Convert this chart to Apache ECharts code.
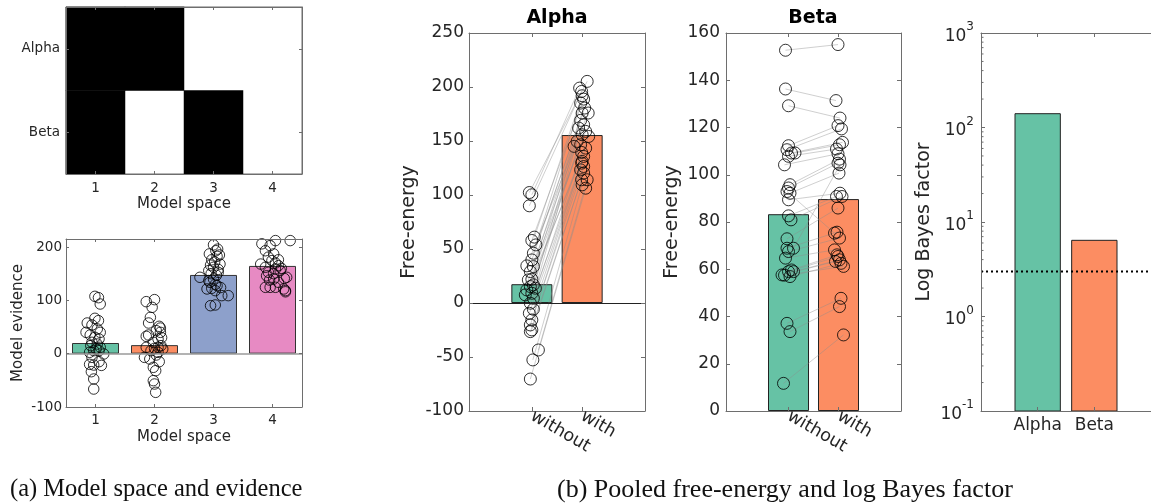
<!DOCTYPE html>
<html><head><meta charset="utf-8">
<script src="https://cdn.jsdelivr.net/npm/echarts@6/dist/echarts.min.js"></script>
<style>html,body{margin:0;padding:0;background:#fff}#c{width:1151px;height:504px}</style>
</head><body><div id="c"></div>
<script>
// ---------- data ----------
const modelLabels = ['1', '2', '3', '4'];
const factorRows = ['Beta', 'Alpha'];           // bottom -> top
const modelSpaceAlpha = [1, 1, 0, 0];
const modelSpaceBeta = [1, 0, 1, 0];

const evidenceMeans = [20, 16, 147.6, 164.5];
const evidenceM1 = [107.5, 105, 93.1, 66.3, 61.9, 57.5, 53.8, 46.3, 40, 40, 35, 30.6, 27.5, 21.3, 18.1, 15, 11.9, 8.8, 5.6, 5.6, 2.5, -0.6, -6.9, -15, -21.3, -33.8, -47.5, -66.3, -20, -22];
const jitterM1 = [-0.01, 0.05, 0.08, -0.01, 0.05, -0.14, -0.06, 0.03, -0.16, 0.08, -0.09, -0.01, 0.06, -0.06, 0.03, -0.08, 0.08, 0.01, -0.03, 0.06, -0.1, 0.14, -0.06, 0.06, -0.03, -0.07, -0.03, -0.03, -0.1, 0.1];
const evidenceM2 = [97.5, 101.3, 86.9, 68.1, 57.5, 51.3, 43.1, 35, 32.5, 27.5, 21.3, 15, 11.9, 10, 8.8, 5.6, 2.5, -2.5, -6.9, -10, -15, -25.6, -31.9, -50.6, -56.9, -72.5, 40, 30, 48, 12];
const jitterM2 = [-0.14, 0, -0.04, -0.07, -0.1, 0.08, 0.03, -0.1, -0.14, 0.06, -0.02, 0.11, -0.14, 0, 0.14, -0.06, 0.06, 0.03, -0.17, -0.08, 0.08, -0.02, 0.02, -0.02, 0, 0.02, 0.1, 0.12, 0.1, 0.06];
const evidenceM3 = [204, 196, 193, 187, 185, 182.6, 176, 172, 168, 166, 162, 158, 155.7, 152.5, 150, 147, 143.2, 140, 137, 133.8, 130, 127.6, 124, 122.6, 121.3, 118.2, 108.8, 108.8, 91.3, 90];
const jitterM3 = [0, 0.07, 0.04, -0.07, 0.1, 0.06, -0.03, 0.02, 0.11, -0.05, 0, 0.08, -0.08, 0.08, -0.04, 0.05, -0.23, 0, -0.08, -0.06, 0.03, 0.06, 0.12, -0.03, -0.11, 0.03, 0.14, 0.25, 0.03, -0.05];
const evidenceM4 = [212, 212, 206, 202.6, 193, 187, 181, 176, 174.5, 170, 168, 165, 162, 160, 158.8, 155.7, 152.5, 150, 146, 143.2, 141, 140, 133.8, 124.4, 124.4, 124.4, 121.3, 118.2, 116, 138];
const jitterM4 = [0.05, 0.3, -0.18, -0.04, -0.12, 0.02, -0.07, 0.1, -0.01, 0.05, -0.2, 0.1, -0.12, 0.15, 0.05, 0.13, -0.07, 0.02, -0.1, 0.24, 0.2, 0.02, 0.1, -0.12, -0.04, 0.05, 0.19, 0.22, 0.22, -0.05];

const condLabels = ['without', 'with'];
const alphaMeans = [17.4, 155.5];
const alphaWithout = [102.3, 100.2, 90, 61, 57.9, 53.8, 46.1, 39.9, 34.4, 33.7, 29.1, 22, 21.4, 16.8, 15.2, 13.7, 12.1, 9, 7.5, 4.4, -0.2, -5.8, -9.5, -15.7, -20.3, -24.9, -26.5, -43.5, -52.7, -70.4];
const alphaWithoutJit = [-0.05, 0, -0.05, 0.05, 0, 0.08, 0.03, 0, -0.1, 0.03, -0.03, 0, -0.07, 0.03, -0.03, 0.07, -0.1, 0, -0.13, 0.03, -0.03, 0.03, -0.05, 0, -0.03, 0, -0.03, 0.13, 0.02, -0.03];
const alphaWith = [205.2, 199, 195.9, 191.9, 188.8, 185.1, 180.5, 175.9, 175.9, 169.1, 165, 162, 158.9, 155.8, 154.2, 149.6, 146.5, 145, 143.4, 139.4, 135.7, 131.1, 129.5, 126.4, 123.3, 120.3, 114.1, 114.1, 109.4, 106.3];
const alphaWithJit = [0.1, -0.05, -0.01, 0, 0.03, -0.03, 0.05, 0, 0.12, -0.03, 0.03, -0.07, 0.07, 0, 0.13, -0.1, -0.03, -0.16, 0.07, -0.01, 0.03, 0, -0.01, 0.03, -0.03, 0.03, -0.01, 0.1, 0, 0.07];

const betaMeans = [83.3, 89.7];
const betaWithout = [152.7, 136.3, 129.2, 112.3, 110.6, 109.2, 109.2, 107.8, 104.2, 95.8, 94.4, 92.9, 92.2, 89.4, 82.6, 80.9, 72.9, 68.9, 68.9, 67.5, 64.7, 59.7, 59.0, 59.0, 57.6, 56.9, 57.5, 37.1, 33.6, 11.7];
const betaWithoutJit = [-0.06, -0.06, 0, 0, -0.03, 0.06, 0.13, 0, -0.08, 0.03, 0, -0.03, 0.03, 0, 0, 0.05, -0.03, -0.03, 0.1, 0, -0.06, 0.06, 0, 0.1, -0.13, 0.03, -0.08, -0.03, 0.03, -0.1];
const betaWith = [155.1, 131.4, 124.0, 120.8, 119.4, 113.7, 112.7, 110.9, 108.9, 106.6, 104.9, 75.3, 100.7, 92.2, 90.8, 90.8, 85.9, 75.7, 104.2, 73.2, 68.2, 66.1, 65.4, 64.0, 63.3, 62.5, 61.2, 47.7, 44.2, 32.2];
const betaWithJit = [-0.01, -0.05, 0.03, -0.01, 0.06, 0.08, 0.02, -0.04, -0.01, 0.02, -0.01, -0.08, 0.01, 0.03, -0.04, 0.07, -0.01, -0.03, 0.03, 0.02, -0.08, -0.03, -0.01, 0.02, -0.06, 0.05, 0.1, 0.05, 0.02, 0.1];

const bayesLabels = ['Alpha', 'Beta'];
const bayesFactor = [140, 6.4];
const bayesThreshold = 3;
const logMinorTicks = [0.2, 0.3, 0.4, 0.5, 0.6, 0.7, 0.8, 0.9, 2, 3, 4, 5, 6, 7, 8, 9, 20, 30, 40, 50, 60, 70, 80, 90, 200, 300, 400, 500, 600, 700, 800, 900];

const evidenceTicks = [-100, 0, 100, 200];
const captionA = '(a) Model space and evidence';
const captionB = '(b) Pooled free-energy and log Bayes factor';

// ---------- style ----------
const TXT = '#262626';
const FRAME = '#6e6e6e';
const COLORS = ['#66c2a5', '#fc8d62', '#8da0cb', '#e78ac3'];
const FONT = 'DejaVu Sans';

const aLine = { show: true, onZero: false, lineStyle: { color: FRAME, width: 1 } };
const tick = (len, extra) => Object.assign({ show: true, inside: true, length: len, lineStyle: { color: FRAME, width: 1 } }, extra || {});
const noLabel = { show: false };
const noSplit = { show: false };
const AZ = 10;

const xAxis = [
  // 0,1 matrix
  { gridIndex: 0, z: AZ, type: 'category', data: modelLabels, position: 'bottom', axisLine: aLine, axisTick: tick(3, { alignWithLabel: true }),
    axisLabel: { fontSize: 13.5, margin: 7, color: TXT, fontFamily: FONT }, splitLine: noSplit,
    name: 'Model space', nameLocation: 'middle', nameGap: 23, nameTextStyle: { fontSize: 15, color: TXT, fontFamily: FONT } },
  { gridIndex: 0, z: AZ, type: 'category', data: modelLabels, position: 'top', axisLine: aLine, axisTick: tick(3, { alignWithLabel: true }), axisLabel: noLabel, splitLine: noSplit },
  // 2,3 evidence
  { gridIndex: 1, z: AZ, type: 'value', min: 0.5, max: 4.5, position: 'bottom', axisLine: aLine, axisTick: tick(3, { customValues: [1, 2, 3, 4] }),
    axisLabel: { customValues: [1, 2, 3, 4], formatter: v => modelLabels[Math.round(v) - 1], fontSize: 13.5, margin: 6, color: TXT, fontFamily: FONT }, splitLine: noSplit,
    name: 'Model space', nameLocation: 'middle', nameGap: 23, nameTextStyle: { fontSize: 15, color: TXT, fontFamily: FONT } },
  { gridIndex: 1, z: AZ, type: 'value', min: 0.5, max: 4.5, position: 'top', axisLine: aLine, axisTick: tick(3, { customValues: [1, 2, 3, 4] }), axisLabel: noLabel, splitLine: noSplit },
  // 4,5 alpha
  { gridIndex: 2, z: AZ, type: 'value', min: -0.25, max: 3.25, position: 'bottom', axisLine: aLine, axisTick: tick(4, { customValues: [1, 2] }),
    axisLabel: { customValues: [1, 2], formatter: v => condLabels[Math.round(v) - 1], rotate: -30, fontSize: 17.5, margin: 4, color: TXT, fontFamily: FONT }, splitLine: noSplit },
  { gridIndex: 2, z: AZ, type: 'value', min: -0.25, max: 3.25, position: 'top', axisLine: aLine, axisTick: tick(4, { customValues: [1, 2] }), axisLabel: noLabel, splitLine: noSplit },
  // 6,7 beta
  { gridIndex: 3, z: AZ, type: 'value', min: -0.25, max: 3.25, position: 'bottom', axisLine: aLine, axisTick: tick(4, { customValues: [1, 2] }),
    axisLabel: { customValues: [1, 2], formatter: v => condLabels[Math.round(v) - 1], rotate: -30, fontSize: 17.5, margin: 4, color: TXT, fontFamily: FONT }, splitLine: noSplit },
  { gridIndex: 3, z: AZ, type: 'value', min: -0.25, max: 3.25, position: 'top', axisLine: aLine, axisTick: tick(4, { customValues: [1, 2] }), axisLabel: noLabel, splitLine: noSplit },
  // 8,9 log bayes
  { gridIndex: 4, z: AZ, type: 'value', min: 0, max: 3, position: 'bottom', axisLine: aLine, axisTick: tick(4, { customValues: [1, 2] }),
    axisLabel: { customValues: [1, 2], formatter: v => bayesLabels[Math.round(v) - 1], fontSize: 17, margin: 6, color: TXT, fontFamily: FONT }, splitLine: noSplit },
  { gridIndex: 4, z: AZ, type: 'value', min: 0, max: 3, position: 'top', axisLine: aLine, axisTick: tick(4, { customValues: [1, 2] }), axisLabel: noLabel, splitLine: noSplit }
];

const yAxis = [
  // 0,1 matrix
  { gridIndex: 0, z: AZ, type: 'category', data: factorRows, position: 'left', axisLine: aLine, axisTick: tick(3, { alignWithLabel: true }),
    axisLabel: { fontSize: 13.5, margin: 6, color: TXT, fontFamily: FONT }, splitLine: noSplit },
  { gridIndex: 0, z: AZ, type: 'category', data: factorRows, position: 'right', axisLine: aLine, axisTick: tick(3, { alignWithLabel: true }), axisLabel: noLabel, splitLine: noSplit },
  // 2,3 evidence
  { gridIndex: 1, z: AZ, type: 'value', min: -100, max: 215, position: 'left', axisLine: aLine, axisTick: tick(3, { customValues: evidenceTicks }),
    axisLabel: { customValues: evidenceTicks, fontSize: 13.5, margin: 4, color: TXT, fontFamily: FONT }, splitLine: noSplit,
    name: 'Model evidence', nameLocation: 'middle', nameGap: 40, nameTextStyle: { fontSize: 15, color: TXT, fontFamily: FONT } },
  { gridIndex: 1, z: AZ, type: 'value', min: -100, max: 215, position: 'right', axisLine: aLine, axisTick: tick(3, { customValues: evidenceTicks }), axisLabel: noLabel, splitLine: noSplit },
  // 4,5 alpha
  { gridIndex: 2, z: AZ, type: 'value', min: -100, max: 250, interval: 50, position: 'left', axisLine: aLine, axisTick: tick(4),
    axisLabel: { fontSize: 17, margin: 5, color: TXT, fontFamily: FONT }, splitLine: noSplit,
    name: 'Free-energy', nameLocation: 'middle', nameGap: 50, nameTextStyle: { fontSize: 19, color: TXT, fontFamily: FONT } },
  { gridIndex: 2, z: AZ, type: 'value', min: -100, max: 250, interval: 50, position: 'right', axisLine: aLine, axisTick: tick(4), axisLabel: noLabel, splitLine: noSplit },
  // 6,7 beta
  { gridIndex: 3, z: AZ, type: 'value', min: 0, max: 160, interval: 20, position: 'left', axisLine: aLine, axisTick: tick(4),
    axisLabel: { fontSize: 17, margin: 6, color: TXT, fontFamily: FONT }, splitLine: noSplit,
    name: 'Free-energy', nameLocation: 'middle', nameGap: 44, nameTextStyle: { fontSize: 19, color: TXT, fontFamily: FONT } },
  { gridIndex: 3, z: AZ, type: 'value', min: 0, max: 160, interval: 20, position: 'right', axisLine: aLine, axisTick: tick(4), axisLabel: noLabel, splitLine: noSplit },
  // 8 log
  { gridIndex: 4, z: AZ, type: 'log', logBase: 10, min: 0.1, max: 1000, position: 'left', axisLine: aLine, axisTick: tick(4),
    axisLabel: { margin: 7, color: TXT, fontFamily: FONT,
      formatter: v => '{b|10}{s|' + String(Math.round(Math.log10(v))) + '}',
      rich: { b: { fontSize: 17, color: TXT, fontFamily: FONT, verticalAlign: 'bottom', lineHeight: 24 },
              s: { fontSize: 12, color: TXT, fontFamily: FONT, verticalAlign: 'top', lineHeight: 24, padding: [0, 0, 12, 0] } } },
    splitLine: noSplit,
    name: 'Log Bayes factor', nameLocation: 'middle', nameGap: 47, nameTextStyle: { fontSize: 19, color: TXT, fontFamily: FONT } }
];

// ---------- series ----------
const series = [];

// model space matrix
const matrixData = [];
modelLabels.forEach((m, i) => {
  matrixData.push([i, 1, modelSpaceAlpha[i]]);
  matrixData.push([i, 0, modelSpaceBeta[i]]);
});
series.push({ type: 'heatmap', xAxisIndex: 0, yAxisIndex: 0, data: matrixData, silent: true, z: 1 });

// evidence bars
series.push({
  type: 'bar', xAxisIndex: 2, yAxisIndex: 2, barWidth: 47, z: 2, silent: true,
  data: evidenceMeans.map((v, i) => ({ value: [i + 1, v], itemStyle: { color: COLORS[i] } })),
  itemStyle: { borderColor: '#333', borderWidth: 1 },
  markLine: { silent: true, symbol: 'none', label: { show: false }, lineStyle: { color: '#9a9a9a', type: 'solid', width: 1.5 }, data: [{ yAxis: 0 }] }
});
const evSets = [[evidenceM1, jitterM1], [evidenceM2, jitterM2], [evidenceM3, jitterM3], [evidenceM4, jitterM4]];
evSets.forEach(([vals, jit], k) => {
  series.push({
    type: 'scatter', xAxisIndex: 2, yAxisIndex: 2, z: 4, silent: true, symbol: 'circle', symbolSize: 10.5,
    itemStyle: { color: 'rgba(0,0,0,0)', borderColor: '#000', borderWidth: 1 },
    data: vals.map((v, i) => [k + 1 + jit[i], v])
  });
});

// paired panels
function pairedPanel(xi, yi, means, wo, woJ, wi, wiJ, zeroColor) {
  const bar = {
    type: 'bar', xAxisIndex: xi, yAxisIndex: yi, barWidth: 41, z: 2, silent: true,
    data: means.map((v, i) => ({ value: [i + 1, v], itemStyle: { color: COLORS[i] } })),
    itemStyle: { borderColor: '#222', borderWidth: 1 }
  };
  if (zeroColor) bar.markLine = { silent: true, symbol: 'none', label: { show: false }, lineStyle: { color: zeroColor, type: 'solid', width: 1 }, data: [{ yAxis: 0 }] };
  series.push(bar);
  series.push({
    type: 'lines', coordinateSystem: 'cartesian2d', xAxisIndex: xi, yAxisIndex: yi, z: 3, silent: true,
    lineStyle: { color: '#8c8c8c', width: 0.6, opacity: 0.7 },
    data: wo.map((v, i) => ({ coords: [[1 + woJ[i], v], [2 + wiJ[i], wi[i]]] }))
  });
  series.push({
    type: 'scatter', xAxisIndex: xi, yAxisIndex: yi, z: 4, silent: true, symbol: 'circle', symbolSize: 12,
    itemStyle: { color: 'rgba(0,0,0,0)', borderColor: '#000', borderWidth: 1 },
    data: wo.map((v, i) => [1 + woJ[i], v]).concat(wi.map((v, i) => [2 + wiJ[i], v]))
  });
}
pairedPanel(4, 4, alphaMeans, alphaWithout, alphaWithoutJit, alphaWith, alphaWithJit, '#222');
pairedPanel(6, 6, betaMeans, betaWithout, betaWithoutJit, betaWith, betaWithJit, null);

// log Bayes factor bars (custom so bars start at axis bottom)
series.push({
  type: 'custom', xAxisIndex: 8, yAxisIndex: 8, z: 2, silent: true,
  data: bayesFactor.map((v, i) => [i + 1, v]),
  renderItem: (params, api) => {
    const x = api.value(0), v = api.value(1);
    const topLeft = api.coord([x - 0.4, v]);
    const botRight = api.coord([x + 0.4, 0.1]);
    return { type: 'rect', shape: { x: topLeft[0], y: topLeft[1], width: botRight[0] - topLeft[0], height: botRight[1] - topLeft[1] },
      style: { fill: COLORS[params.dataIndex], stroke: '#222', lineWidth: 1 } };
  }
});
// minor log ticks
series.push({
  type: 'custom', xAxisIndex: 8, yAxisIndex: 8, z: 5, silent: true,
  data: logMinorTicks.map(v => [0, v]),
  renderItem: (params, api) => {
    const p = api.coord([0, api.value(1)]);
    return { type: 'line', shape: { x1: p[0], y1: p[1], x2: p[0] + 2.5, y2: p[1] }, style: { stroke: FRAME, lineWidth: 1 } };
  }
});
// threshold
series.push({
  type: 'line', xAxisIndex: 8, yAxisIndex: 8, z: 5, silent: true, symbol: 'none',
  lineStyle: { color: '#000', width: 2, type: [2, 3] },
  data: [[0, bayesThreshold], [3, bayesThreshold]]
});

const option = {
  animation: false,
  backgroundColor: '#fff',
  textStyle: { fontFamily: FONT, color: TXT },
  grid: [
    { left: 66, top: 7, width: 236, height: 167, show: true, borderColor: FRAME, borderWidth: 1, backgroundColor: 'transparent' },
    { left: 66, top: 239, width: 236, height: 168 },
    { left: 469, top: 33, width: 176, height: 378 },
    { left: 726, top: 33, width: 175, height: 378 },
    { left: 981, top: 33, width: 177, height: 378 }
  ],
  visualMap: { type: 'piecewise', show: false, seriesIndex: 0, dimension: 2,
    pieces: [{ value: 0, color: 'rgba(255,255,255,0)' }, { value: 1, color: '#000000' }] },
  xAxis, yAxis, series,
  graphic: [
    { type: 'text', x: 557, y: 18, style: { text: 'Alpha', font: 'bold 19px "DejaVu Sans"', fill: '#000', align: 'center', verticalAlign: 'middle', textAlign: 'center', textVerticalAlign: 'middle' } },
    { type: 'text', x: 813, y: 18, style: { text: 'Beta', font: 'bold 19px "DejaVu Sans"', fill: '#000', align: 'center', verticalAlign: 'middle', textAlign: 'center', textVerticalAlign: 'middle' } },
    { type: 'text', x: 10, y: 490, style: { text: captionA, font: '24.5px "Liberation Serif"', fill: '#111', align: 'left', verticalAlign: 'middle', textAlign: 'left', textVerticalAlign: 'middle' } },
    { type: 'text', x: 557, y: 490, style: { text: captionB, font: '26px "Liberation Serif"', fill: '#111', align: 'left', verticalAlign: 'middle', textAlign: 'left', textVerticalAlign: 'middle' } }
  ]
};
const chart = echarts.init(document.getElementById('c'), null, { renderer: 'canvas' });
chart.setOption(option);
</script>
</body></html>
